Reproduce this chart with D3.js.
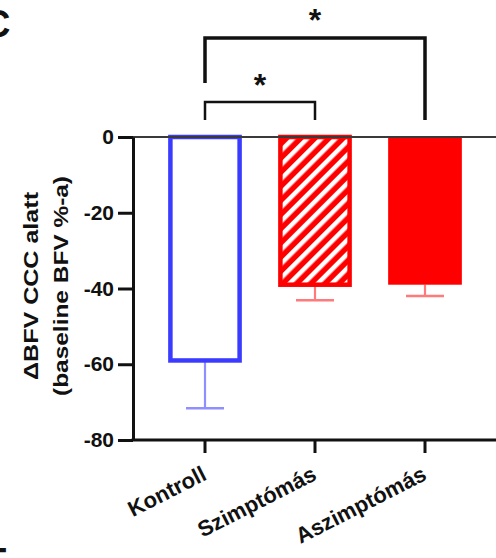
<!DOCTYPE html>
<html>
<head>
<meta charset="utf-8">
<script src="https://cdn.jsdelivr.net/npm/d3@7"></script>
<style>
  html, body { margin: 0; padding: 0; background: #fff; }
  svg { display: block; font-family: "Liberation Sans", Arial, sans-serif; font-weight: bold; }
</style>
</head>
<body>
<svg id="chart" width="496" height="558"></svg>
<script>
// Group labels, mean change and SEM (percent of baseline BFV)
const categories = ["Kontroll", "Szimptómás", "Aszimptómás"];
const means = [-59, -39, -39];
const sems = [12.6, 4.1, 3.0];
const yTicks = [0, -20, -40, -60, -80];
// Significance brackets between groups
const comparisons = [
  { from: "Kontroll", to: "Szimptómás", label: "*" },
  { from: "Kontroll", to: "Aszimptómás", label: "*" }
];

const svg = d3.select("#chart");
const ink = "#111";

const y = d3.scaleLinear().domain([-80, 0]).range([440, 137]);
const x = d3.scaleBand().domain(categories).range([150, 480])
  .paddingInner(0.33).paddingOuter(0.165);
const cx = c => x(c) + x.bandwidth() / 2;

// Styles per group
const style = {
  "Kontroll":    { fill: "#fff", stroke: "#3b3bff", err: "#8f8fff", sw: 4.5 },
  "Szimptómás":  { fill: "url(#hatch)", stroke: "#ff0000", err: "#ff7a7a", sw: 4.5 },
  "Aszimptómás": { fill: "#ff0000", stroke: "#ff0000", err: "#ff7a7a", sw: 0 }
};

const defs = svg.append("defs");
const pat = defs.append("pattern")
  .attr("id", "hatch").attr("patternUnits", "userSpaceOnUse")
  .attr("width", 10).attr("height", 10)
  .attr("patternTransform", "rotate(45)");
pat.append("rect").attr("width", 10).attr("height", 10).attr("fill", "#ff0000");
pat.append("rect").attr("x", 3).attr("width", 4.5).attr("height", 10).attr("fill", "#fff");

// Panel letters at the edges of the figure
svg.append("text").attr("x", -17).attr("y", 37)
  .attr("font-size", 38).attr("fill", ink).text("C");
svg.append("text").attr("x", -16).attr("y", 574)
  .attr("font-size", 36).attr("fill", ink).text("E");

const data = categories.map((c, i) => ({ c, m: means[i], s: sems[i] }));

// Error bars (lower half only)
const eg = svg.append("g");
data.forEach(d => {
  const st = style[d.c];
  eg.append("line").attr("x1", cx(d.c)).attr("x2", cx(d.c))
    .attr("y1", y(d.m)).attr("y2", y(d.m - d.s))
    .attr("stroke", st.err).attr("stroke-width", 2.2);
  eg.append("line").attr("x1", cx(d.c) - 19).attr("x2", cx(d.c) + 19)
    .attr("y1", y(d.m - d.s)).attr("y2", y(d.m - d.s))
    .attr("stroke", st.err).attr("stroke-width", 2.5);
});

// Bars
svg.append("g").selectAll("rect").data(data).join("rect")
  .attr("x", d => x(d.c) + style[d.c].sw / 2)
  .attr("width", d => x.bandwidth() - style[d.c].sw)
  .attr("y", y(0))
  .attr("height", d => y(d.m) - y(0))
  .attr("fill", d => style[d.c].fill)
  .attr("stroke", d => style[d.c].stroke)
  .attr("stroke-width", d => style[d.c].sw);

// Zero line
svg.append("line").attr("x1", 133).attr("x2", 496)
  .attr("y1", y(0)).attr("y2", y(0))
  .attr("stroke", "#3a3a3a").attr("stroke-width", 2);

// Y axis
const ya = svg.append("g").attr("transform", "translate(133,0)")
  .call(d3.axisLeft(y).tickValues(yTicks).tickSize(15).tickSizeOuter(0).tickPadding(4)
    .tickFormat(d => String(d)));
ya.select(".domain").attr("stroke", ink).attr("stroke-width", 3);
ya.selectAll(".tick line").attr("stroke", ink).attr("stroke-width", 3);
ya.selectAll(".tick text").attr("font-size", 21).attr("fill", ink)
  .attr("font-family", "Liberation Sans, Arial, sans-serif").attr("font-weight", "bold");

// X axis
const xa = svg.append("g").attr("transform", "translate(0,440)")
  .call(d3.axisBottom(x).tickSize(13).tickFormat(""));
xa.select(".domain").remove();
xa.selectAll(".tick line").attr("stroke", ink).attr("stroke-width", 3);
svg.append("line").attr("x1", 131.5).attr("x2", 496).attr("y1", 440).attr("y2", 440)
  .attr("stroke", ink).attr("stroke-width", 3);
svg.append("g").selectAll("text").data(categories).join("text")
  .attr("transform", c => `translate(${cx(c) + 3},479) rotate(-27)`)
  .attr("text-anchor", "end").attr("font-size", 22).attr("fill", ink)
  .text(c => c);

// Y axis title
const yt = svg.append("g").attr("transform", "translate(0,286) rotate(-90)");
yt.append("text").attr("x", 0).attr("y", 38).attr("text-anchor", "middle")
  .attr("font-size", 21).attr("fill", ink)
  .attr("textLength", 188).attr("lengthAdjust", "spacingAndGlyphs")
  .text("ΔBFV CCC alatt");
yt.append("text").attr("x", 0).attr("y", 68).attr("text-anchor", "middle")
  .attr("font-size", 21).attr("fill", ink)
  .attr("textLength", 220).attr("lengthAdjust", "spacingAndGlyphs")
  .text("(baseline BFV %-a)");

// Significance brackets
const levels = [
  { top: 102, leftEnd: 120, rightEnd: 120, sw: 2.5, starY: 96 },
  { top: 38, leftEnd: 83, rightEnd: 120, sw: 3.5, starY: 31 }
];
comparisons.forEach((cmp, i) => {
  const L = levels[i];
  const x1 = cx(cmp.from), x2 = cx(cmp.to);
  svg.append("path")
    .attr("d", `M${x1},${L.leftEnd}V${L.top}H${x2}V${L.rightEnd}`)
    .attr("fill", "none").attr("stroke", ink).attr("stroke-width", L.sw);
  svg.append("text").attr("x", (x1 + x2) / 2).attr("y", L.starY)
    .attr("text-anchor", "middle").attr("font-size", 32).attr("fill", ink)
    .text(cmp.label);
});
</script>
</body>
</html>
